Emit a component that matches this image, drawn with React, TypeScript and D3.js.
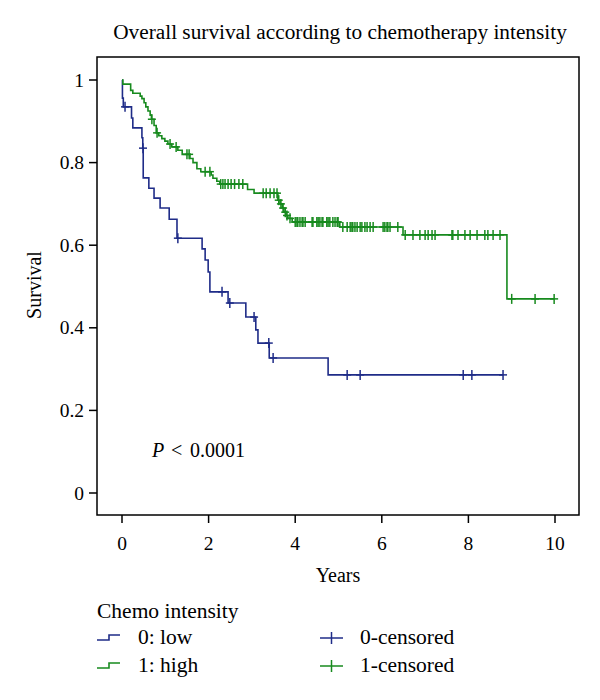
import React from "react";
import * as d3 from "d3";

const title = "Overall survival according to chemotherapy intensity";
const xTicks = [0, 2, 4, 6, 8, 10];
const yTicks = [0, 0.2, 0.4, 0.6, 0.8, 1];
const yTickLabels = ["0", "0.2", "0.4", "0.6", "0.8", "1"];

// Group 0: low intensity — event times (years) and survival after each event
const lowTimes = [0.01, 0.03, 0.22, 0.25, 0.46, 0.48, 0.49, 0.62, 0.74, 0.88, 1.09, 1.27, 1.85, 1.92, 1.99, 2.03, 2.45, 2.86, 3.09, 3.14, 3.40, 4.76];
const lowSurv = [0.956, 0.935, 0.908, 0.884, 0.86, 0.835, 0.763, 0.738, 0.714, 0.69, 0.663, 0.617, 0.591, 0.564, 0.535, 0.487, 0.46, 0.426, 0.395, 0.363, 0.327, 0.286];
const lowCensor = [0.07, 0.485, 1.29, 2.31, 2.49, 3.05, 3.39, 3.49, 5.2, 5.5, 7.88, 8.08, 8.8];

// Group 1: high intensity
const highTimes = [0.02, 0.2, 0.25, 0.42, 0.46, 0.51, 0.55, 0.6, 0.65, 0.68, 0.74, 0.79, 0.85, 0.92, 0.99, 1.06, 1.15, 1.29, 1.39, 1.57, 1.64, 1.73, 1.82, 2.06, 2.1, 2.19, 2.26, 2.9, 3.05, 3.6, 3.65, 3.7, 3.74, 3.79, 3.83, 3.93, 5.03, 6.49, 8.89];
const highSurv = [0.99, 0.975, 0.968, 0.961, 0.955, 0.945, 0.935, 0.925, 0.915, 0.905, 0.89, 0.872, 0.865, 0.858, 0.852, 0.845, 0.838, 0.83, 0.82, 0.81, 0.8, 0.785, 0.778, 0.77, 0.762, 0.755, 0.748, 0.735, 0.726, 0.709, 0.7, 0.69, 0.68, 0.672, 0.665, 0.656, 0.644, 0.625, 0.47];
const highCensor = [0.69, 0.81, 1.11, 1.25, 1.5, 1.55, 1.92, 2.03, 2.28, 2.33, 2.38, 2.45, 2.52, 2.6, 2.7, 2.79, 3.26, 3.33, 3.42, 3.51, 3.58, 3.62, 3.67, 3.72, 3.77, 3.81, 3.88,
  4.0, 4.04, 4.06, 4.11, 4.16, 4.18, 4.23, 4.39, 4.41, 4.5, 4.53, 4.57, 4.62, 4.64, 4.73, 4.76, 4.8, 4.87, 4.92, 4.97, 4.99,
  5.1, 5.2, 5.27, 5.31, 5.33, 5.38, 5.43, 5.5, 5.54, 5.61, 5.66, 5.73, 5.8, 6.03, 6.07, 6.12, 6.14, 6.19, 6.37,
  6.54, 6.72, 6.88, 7.0, 7.07, 7.16, 7.23, 7.62, 7.64, 7.76, 7.92, 8.04, 8.2, 8.38, 8.45, 8.57, 8.73,
  9.0, 9.54, 9.98];

const BLUE = "#1f2c88";
const GREEN = "#178a1e";
const FONT = "'Liberation Serif', serif";

const x = d3.scaleLinear().domain([0, 10]).range([122, 555]);
const y = d3.scaleLinear().domain([0, 1]).range([493, 80]);

function survAt(times: number[], surv: number[], t: number) {
  let s = 1;
  for (let i = 0; i < times.length; i++) if (times[i] <= t) s = surv[i];
  return s;
}

function stepPoints(times: number[], surv: number[], end: number): [number, number][] {
  const pts: [number, number][] = [[0, 1]];
  times.forEach((t, i) => pts.push([t, surv[i]]));
  pts.push([end, surv[surv.length - 1]]);
  return pts;
}

const line = d3.line<[number, number]>().x((d) => x(d[0])).y((d) => y(d[1])).curve(d3.curveStepAfter);

function Curve({ times, surv, censor, color }: { times: number[]; surv: number[]; censor: number[]; color: string }) {
  const end = Math.max(...censor, ...times);
  return (
    <g>
      <path d={line(stepPoints(times, surv, end)) || ""} fill="none" stroke={color} strokeWidth={1.6} />
      {censor.map((t, i) => {
        const cx = x(t);
        const cy = y(survAt(times, surv, t));
        return (
          <g key={i} stroke={color} strokeWidth={1.5}>
            <line x1={cx} x2={cx} y1={cy - 5} y2={cy + 5} />
            <line x1={cx - 4} x2={cx + 4} y1={cy} y2={cy} />
          </g>
        );
      })}
    </g>
  );
}

export default function App() {
  return (
    <svg width={600} height={700} style={{ position: "absolute", left: 0, top: 0, background: "#fff" }} fontFamily={FONT}>
      <text x={340} y={39} textAnchor="middle" fontSize={21.3}>{title}</text>
      <rect x={97} y={57} width={482} height={458} fill="none" stroke="#000" strokeWidth={1.5} />
      {yTicks.map((v, i) => (
        <g key={i}>
          <line x1={89} x2={97} y1={y(v)} y2={y(v)} stroke="#000" strokeWidth={1.5} />
          <text x={84} y={y(v) + 6.5} textAnchor="end" fontSize={19.5}>{yTickLabels[i]}</text>
        </g>
      ))}
      {xTicks.map((v) => (
        <g key={v}>
          <line x1={x(v)} x2={x(v)} y1={515} y2={523} stroke="#000" strokeWidth={1.5} />
          <text x={x(v)} y={550} textAnchor="middle" fontSize={19.5}>{v}</text>
        </g>
      ))}
      <text x={338} y={582} textAnchor="middle" fontSize={20}>Years</text>
      <text transform="translate(41,285) rotate(-90)" textAnchor="middle" fontSize={20}>Survival</text>
      <text y={457} fontSize={20}>
        <tspan x={152} fontStyle="italic">P</tspan>
        <tspan x={171}>{"<"}</tspan>
        <tspan x={190}>0.0001</tspan>
      </text>
      <Curve times={lowTimes} surv={lowSurv} censor={lowCensor} color={BLUE} />
      <Curve times={highTimes} surv={highSurv} censor={highCensor} color={GREEN} />
      {/* Legend */}
      <text x={97} y={618} fontSize={21.5}>Chemo intensity</text>
      <path d="M97,640 H109 V635 H120" fill="none" stroke={BLUE} strokeWidth={1.6} />
      <text x={138} y={644} fontSize={21.5}>0: low</text>
      <path d="M97,668 H109 V663 H120" fill="none" stroke={GREEN} strokeWidth={1.6} />
      <text x={138} y={672} fontSize={21.5}>1: high</text>
      <g stroke={BLUE} strokeWidth={1.5}>
        <line x1={320} x2={343} y1={638} y2={638} />
        <line x1={331.5} x2={331.5} y1={632} y2={644} />
      </g>
      <text x={360} y={644} fontSize={21.5}>0-censored</text>
      <g stroke={GREEN} strokeWidth={1.5}>
        <line x1={320} x2={343} y1={666} y2={666} />
        <line x1={331.5} x2={331.5} y1={660} y2={672} />
      </g>
      <text x={360} y={672} fontSize={21.5}>1-censored</text>
    </svg>
  );
}
